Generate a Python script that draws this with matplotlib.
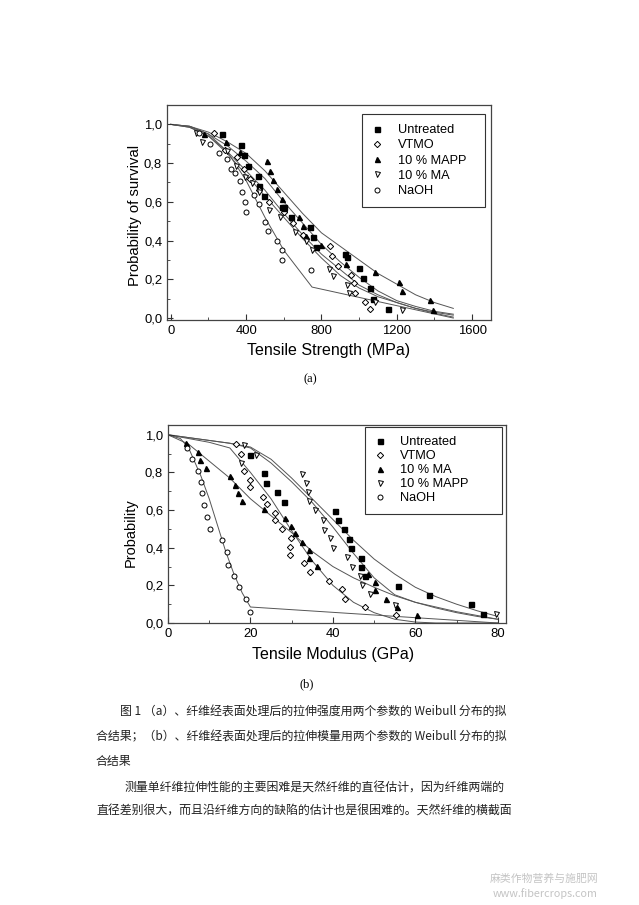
import matplotlib
matplotlib.use("Agg")
import matplotlib.pyplot as plt
from matplotlib.ticker import MultipleLocator

plt.rcParams["font.family"] = ["Liberation Sans", "DejaVu Sans"]

W, H = 639, 905

# ---- (a) tensile strength ----
a_unt_x = [270, 375, 391, 412, 463, 468, 493, 588, 603, 640, 738, 757, 771, 925, 937, 1001, 1022, 1059, 1071, 1152]
a_unt_y = [0.948, 0.893, 0.841, 0.786, 0.733, 0.681, 0.629, 0.574, 0.574, 0.522, 0.471, 0.417, 0.366, 0.33, 0.316, 0.260, 0.205, 0.153, 0.098, 0.047]
a_vtmo_x = [229, 287, 349, 391, 420, 470, 520, 600, 650, 700, 844, 856, 886, 955, 971, 980, 1033, 1059]
a_vtmo_y = [0.955, 0.866, 0.83, 0.77, 0.72, 0.66, 0.60, 0.55, 0.49, 0.43, 0.37, 0.32, 0.27, 0.22, 0.18, 0.13, 0.085, 0.045]
a_mapp_x = [176, 292, 366, 511, 527, 544, 564, 588, 600, 680, 702, 716, 800, 925, 930, 1085, 1214, 1230, 1376, 1392]
a_mapp_y = [0.952, 0.909, 0.859, 0.810, 0.760, 0.714, 0.667, 0.617, 0.57, 0.522, 0.474, 0.426, 0.378, 0.333, 0.281, 0.236, 0.188, 0.138, 0.095, 0.040]
a_ma_x = [134, 164, 300, 345, 393, 433, 470, 522, 580, 657, 720, 750, 840, 863, 936, 945, 1082, 1230]
a_ma_y = [0.957, 0.91, 0.86, 0.786, 0.728, 0.695, 0.65, 0.56, 0.52, 0.443, 0.40, 0.35, 0.255, 0.215, 0.172, 0.129, 0.083, 0.04]
a_naoh_x = [150, 208, 254, 296, 319, 340, 366, 379, 393, 398, 440, 467, 500, 515, 564, 589, 592, 747]
a_naoh_y = [0.955, 0.90, 0.85, 0.82, 0.77, 0.75, 0.71, 0.65, 0.60, 0.55, 0.635, 0.59, 0.495, 0.447, 0.40, 0.35, 0.30, 0.25]

a_fit_x = [0, 100, 200, 300, 400, 500, 600, 700, 800, 900, 1000, 1100, 1200, 1300, 1400, 1500]
a_fit_mapp = [1.0, 0.99, 0.96, 0.91, 0.85, 0.76, 0.65, 0.54, 0.44, 0.37, 0.30, 0.23, 0.175, 0.12, 0.08, 0.05]
a_fit_unt = [1.0, 0.99, 0.95, 0.89, 0.81, 0.72, 0.60, 0.49, 0.38, 0.29, 0.21, 0.14, 0.09, 0.06, 0.035, 0.02]
a_fit_vtmo = [1.0, 0.985, 0.94, 0.86, 0.76, 0.66, 0.54, 0.43, 0.33, 0.25, 0.17, 0.12, 0.08, 0.05, 0.03, 0.015]
a_fit_ma = [1.0, 0.985, 0.94, 0.85, 0.74, 0.63, 0.52, 0.41, 0.31, 0.22, 0.155, 0.11, 0.08, 0.05, 0.025, 0.005]
a_fit_naoh_x = [0, 100, 200, 300, 400, 500, 600, 750, 1500]
a_fit_naoh = [1.0, 0.99, 0.95, 0.86, 0.71, 0.52, 0.35, 0.16, 0.0]

# ---- (b) tensile modulus ----
b_unt_x = [20.0, 23.3, 23.7, 26.5, 28.1, 40.6, 41.2, 42.7, 44.0, 44.4, 46.9, 46.9, 47.8, 55.8, 63.3, 73.4, 76.4]
b_unt_y = [0.893, 0.795, 0.745, 0.695, 0.645, 0.597, 0.545, 0.497, 0.447, 0.398, 0.348, 0.298, 0.248, 0.198, 0.150, 0.100, 0.05]
b_vtmo_x = [16.4, 17.6, 18.4, 19.8, 20.0, 23.0, 24.0, 26.0, 26.0, 27.7, 29.9, 29.5, 29.7, 32.9, 34.4, 39.0, 42.1, 43.0, 47.7, 55.2]
b_vtmo_y = [0.95, 0.90, 0.81, 0.76, 0.72, 0.67, 0.63, 0.585, 0.545, 0.50, 0.45, 0.405, 0.36, 0.32, 0.27, 0.225, 0.18, 0.13, 0.085, 0.045]
b_ma_x = [4.4, 7.2, 7.8, 9.3, 15.0, 16.3, 17.0, 18.0, 23.4, 28.5, 29.9, 30.9, 32.5, 34.1, 34.1, 36.2, 48.5, 50.1, 50.1, 52.8, 55.6, 60.3]
b_ma_y = [0.954, 0.909, 0.866, 0.824, 0.781, 0.733, 0.692, 0.649, 0.606, 0.56, 0.517, 0.476, 0.431, 0.39, 0.346, 0.305, 0.26, 0.216, 0.173, 0.128, 0.086, 0.041]
b_mapp_x = [18.4, 21.3, 17.7, 32.6, 33.4, 34.0, 34.3, 35.7, 37.5, 37.8, 39.2, 40.0, 43.4, 44.7, 46.5, 47.1, 48.9, 55.0, 79.6]
b_mapp_y = [0.945, 0.893, 0.85, 0.793, 0.745, 0.695, 0.647, 0.599, 0.545, 0.496, 0.449, 0.401, 0.353, 0.30, 0.251, 0.203, 0.153, 0.098, 0.05]
b_naoh_x = [4.5, 5.8, 7.3, 8.0, 8.3, 8.8, 9.5, 10.3, 13.2, 14.3, 14.6, 16.0, 17.2, 19.0, 20.0]
b_naoh_y = [0.93, 0.87, 0.81, 0.75, 0.69, 0.625, 0.565, 0.50, 0.44, 0.375, 0.31, 0.25, 0.19, 0.125, 0.06]

b_fit_x = [0, 5, 10, 15, 20, 25, 30, 35, 40, 45, 50, 55, 60, 65, 70, 75, 80]
b_fit_unt = [1.0, 0.985, 0.97, 0.955, 0.935, 0.87, 0.77, 0.66, 0.55, 0.44, 0.34, 0.26, 0.19, 0.14, 0.10, 0.065, 0.035]
b_fit_mapp = [1.0, 0.985, 0.97, 0.955, 0.93, 0.85, 0.75, 0.64, 0.51, 0.37, 0.24, 0.15, 0.11, 0.08, 0.055, 0.035, 0.02]
b_fit_vtmo = [1.0, 0.98, 0.96, 0.93, 0.80, 0.66, 0.49, 0.33, 0.20, 0.11, 0.055, 0.02, 0.005, 0.0, 0.0, 0.0, 0.0]
b_fit_ma = [1.0, 0.95, 0.86, 0.77, 0.66, 0.57, 0.48, 0.38, 0.30, 0.24, 0.19, 0.145, 0.11, 0.085, 0.06, 0.04, 0.02]
b_fit_naoh_x = [0, 3, 5, 8, 10, 12, 14, 16, 18, 20, 80]
b_fit_naoh = [1.0, 0.98, 0.93, 0.78, 0.66, 0.52, 0.38, 0.26, 0.16, 0.085, 0.0]

y_ticks = [0.0, 0.2, 0.4, 0.6, 0.8, 1.0]
y_tick_labels = ["0,0", "0,2", "0,4", "0,6", "0,8", "1,0"]

caption = [
    "图 1 （a）、纤维经表面处理后的拉伸强度用两个参数的 Weibull 分布的拟",
    "合结果；（b）、纤维经表面处理后的拉伸模量用两个参数的 Weibull 分布的拟",
    "合结果",
    "测量单纤维拉伸性能的主要困难是天然纤维的直径估计，因为纤维两端的",
    "直径差别很大，而且沿纤维方向的缺陷的估计也是很困难的。天然纤维的横截面",
]

LINE = dict(color="#555555", lw=0.7, zorder=1)
MS = 3.6
fill = dict(color="black", ls="none", ms=MS, zorder=3)
hollow = dict(color="black", mfc="white", mew=0.7, ls="none", ms=MS, zorder=3)


def box(left, top, right, bottom):
    return [left / W, 1 - bottom / H, (right - left) / W, (bottom - top) / H]


def style_axes(ax, xmaj, xmin):
    ax.set_yticks(y_ticks)
    ax.set_yticklabels(y_tick_labels)
    ax.xaxis.set_major_locator(MultipleLocator(xmaj))
    ax.xaxis.set_minor_locator(MultipleLocator(xmin))
    ax.yaxis.set_minor_locator(MultipleLocator(0.1))
    ax.tick_params(which="both", direction="in", top=False, right=False,
                   labelsize=9.4, color="#333333")
    ax.tick_params(which="major", length=4)
    ax.tick_params(which="minor", length=2)
    for s in ax.spines.values():
        s.set_color("#444444")
        s.set_linewidth(0.9)


def legend(ax, bbox, spacing, pad):
    # bbox = (x0, y0, width, height) in axes coords, box stretched to width
    leg = ax.legend(loc="upper left", bbox_to_anchor=bbox, mode="expand",
                    fontsize=9.2, frameon=True, fancybox=False, framealpha=1,
                    edgecolor="#333333", handlelength=0.8, handletextpad=1.2,
                    labelspacing=spacing, borderpad=pad, borderaxespad=0)
    leg.get_frame().set_linewidth(0.8)


fig = plt.figure(figsize=(W / 100, H / 100), dpi=100)

# (a)
ax = fig.add_axes(box(167, 105, 491, 320))
for xs, ys in [(a_fit_x, a_fit_mapp), (a_fit_x, a_fit_unt), (a_fit_x, a_fit_vtmo),
               (a_fit_x, a_fit_ma), (a_fit_naoh_x, a_fit_naoh)]:
    ax.plot(xs, ys, **LINE)
ax.plot(a_unt_x, a_unt_y, marker="s", label="Untreated", **fill)
ax.plot(a_vtmo_x, a_vtmo_y, marker="D", label="VTMO", **{**hollow, "ms": 3.2})
ax.plot(a_mapp_x, a_mapp_y, marker="^", label="10 % MAPP", **fill)
ax.plot(a_ma_x, a_ma_y, marker="v", label="10 % MA", **hollow)
ax.plot(a_naoh_x, a_naoh_y, marker="o", label="NaOH", **hollow)
ax.set_xlim(-20, 1700)
ax.set_ylim(-0.01, 1.10)
style_axes(ax, 400, 200)
legend(ax, (0.602, 0.5, 0.38, 0.458), 0.25, 0.8)

fig.text(135 / W, 1 - 215 / H, "Probability of survival", rotation=90,
         ha="center", va="center", fontsize=10.7)
fig.text(329 / W, 1 - 350 / H, "Tensile Strength (MPa)", ha="center",
         va="center", fontsize=11.5)
fig.text(310 / W, 1 - 379 / H, "(a)", ha="center", va="center", fontsize=9,
         family="Liberation Serif")

# (b)
ax = fig.add_axes(box(168, 425, 506, 623))
for xs, ys in [(b_fit_x, b_fit_unt), (b_fit_x, b_fit_mapp), (b_fit_x, b_fit_vtmo),
               (b_fit_x, b_fit_ma), (b_fit_naoh_x, b_fit_naoh)]:
    ax.plot(xs, ys, **LINE)
ax.plot(b_unt_x, b_unt_y, marker="s", label="Untreated", **fill)
ax.plot(b_vtmo_x, b_vtmo_y, marker="D", label="VTMO", **{**hollow, "ms": 3.2})
ax.plot(b_ma_x, b_ma_y, marker="^", label="10 % MA", **fill)
ax.plot(b_mapp_x, b_mapp_y, marker="v", label="10 % MAPP", **hollow)
ax.plot(b_naoh_x, b_naoh_y, marker="o", label="NaOH", **hollow)
ax.set_xlim(0, 82)
ax.set_ylim(0, 1.052)
style_axes(ax, 20, 10)
legend(ax, (0.583, 0.5, 0.405, 0.492), 0.16, 0.75)

fig.text(131 / W, 1 - 533 / H, "Probability", rotation=90,
         ha="center", va="center", fontsize=10.5)
fig.text(333 / W, 1 - 654 / H, "Tensile Modulus (GPa)", ha="center",
         va="center", fontsize=11.5)
fig.text(307 / W, 1 - 684 / H, "(b)", ha="center", va="center", fontsize=9,
         family="Liberation Serif")

# caption and body text
cjk = ["Noto Sans CJK SC", "DejaVu Sans"]
for (x, y), line in zip([(120, 712), (96, 737), (96, 761), (125, 787), (96, 810)], caption):
    fig.text(x / W, 1 - y / H, line, ha="left", va="center", fontsize=8.6,
             family=cjk, color="#222222")

fig.text(598 / W, 1 - 879 / H, "麻类作物营养与施肥网", ha="right", va="center",
         fontsize=7.8, family=cjk, color="#c4c4c4")
fig.text(598 / W, 1 - 894 / H, "www.fibercrops.com", ha="right", va="center",
         fontsize=7.8, family=cjk, color="#c4c4c4")

fig.savefig("out.png", dpi=100)
